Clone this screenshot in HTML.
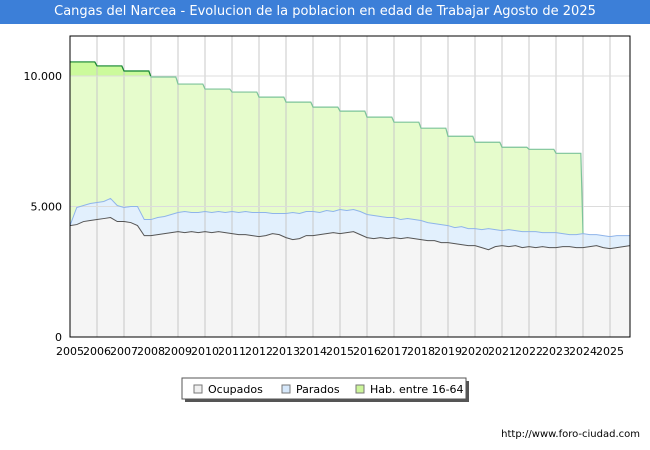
<!DOCTYPE html>
<html><head><meta charset="utf-8">
<style>
body{margin:0;width:650px;height:450px;background:#fff;font-family:"DejaVu Sans","Liberation Sans",sans-serif;overflow:hidden}
#title{position:absolute;left:0;top:0;width:650px;height:24px;background:#3c7fd8;color:#fff;font-size:13px;line-height:24px;text-align:center}
</style></head><body>
<div id="title">Cangas del Narcea - Evolucion de la poblacion en edad de Trabajar Agosto de 2025</div>
<svg id="chart" width="650" height="450" style="position:absolute;left:0;top:0"></svg>
<script>
const years=[2005,2006,2007,2008,2009,2010,2011,2012,2013,2014,2015,2016,2017,2018,2019,2020,2021,2022,2023];
const hab=[10538,10385,10192,9962,9692,9500,9385,9192,9000,8808,8654,8423,8231,8000,7692,7462,7269,7192,7038];
const ocupados=[4269,4308,4423,4462, 4500,4538,4577,4423, 4423,4385,4269,3885, 3885,3923,3962,4000, 4038,4000,4038,4000, 4038,4000,4038,4000, 3962,3923,3923,3885, 3846,3885,3962,3923, 3808,3731,3769,3885, 3885,3923,3962,4000, 3962,4000,4038,3923, 3808,3769,3808,3769, 3808,3769,3808,3769, 3731,3692,3692,3615, 3615,3577,3538,3500, 3500,3423,3346,3462, 3500,3462,3500,3423, 3462,3423,3462,3423, 3423,3462,3462,3423, 3423,3462,3500,3423, 3385,3423,3500];
const parados=[0,654,615,654, 654,654,731,615, 538,615,731,615, 615,654,654,692, 731,808,731,769, 769,769,769,769, 846,846,885,885, 923,885,769,808, 923,1038,962,923, 923,846,885,808, 923,846,846,885, 885,885,808,808, 769,731,731,731, 731,692,654,692, 654,615,692,654, 654,692,808,654, 577,654,577,615, 577,615,538,577, 577,500,462,500, 538,462,423,462, 462,462,385];
const yTicks=[0,5000,10000];
const yLabels=["0","5.000","10.000"];
const xLabels=["2005","2006","2007","2008","2009","2010","2011","2012","2013","2014","2015","2016","2017","2018","2019","2020","2021","2022","2023","2024","2025"];

const NS="http://www.w3.org/2000/svg";
const svg=document.getElementById('chart');
const X0=70,X1=630,Y0=337,Y1=36;
const sx=t=>X0+(t-2005)*27;
const sy=v=>Y0-v/5000*130.5;
function el(tag,attrs,parent){const e=document.createElementNS(NS,tag);for(const k in attrs)e.setAttribute(k,attrs[k]);(parent||svg).appendChild(e);return e;}

const bg=el('rect',{x:X0,y:Y1,width:X1-X0,height:Y0-Y1,fill:'#fff'});



const qt=i=>2005+i*0.25;
const last=ocupados.length-1;
const xEnd=X1;
const qx=i=>i===last?xEnd:sx(qt(i));
const tops=ocupados.map((o,i)=>o+parados[i]);

// hab area
let hp=[];
years.forEach((yr,i)=>{hp.push([sx(yr),sy(hab[i])]);hp.push([sx(yr+0.92),sy(hab[i])]);});
const endIdx=(2024-2005)*4;
hp.push([sx(2024),sy(tops[endIdx])]);
let hPts=hp.map(p=>p.join(',')).join(' ');
const habArea=el('polygon',{points:hPts+` ${sx(2024)},${Y0} ${X0},${Y0}`,fill:'#e6fccc'});


// darker part above 10000
el('clipPath',{id:'hi'}).appendChild(Object.assign(document.createElementNS(NS,'rect'),{})) ;
const cp=svg.querySelector('#hi rect');cp.setAttribute('x',X0);cp.setAttribute('y',Y1);cp.setAttribute('width',X1-X0);cp.setAttribute('height',sy(10000)-Y1);
el('polygon',{points:hPts+` ${sx(2024)},${Y0} ${X0},${Y0}`,fill:'#ccfa9c','clip-path':'url(#hi)'});

// parados area
let tp=tops.map((v,i)=>[qx(i),sy(v)]);
let op=ocupados.map((v,i)=>[qx(i),sy(v)]);
const parArea=el('polygon',{points:tp.map(p=>p.join(',')).join(' ')+' '+op.slice().reverse().map(p=>p.join(',')).join(' '),fill:'#e2f0fd'});


const ocuArea=el('polygon',{points:op.map(p=>p.join(',')).join(' ')+` ${xEnd},${Y0} ${X0},${Y0}`,fill:'#f5f5f5'});



// grid
for(let y=2006;y<=2025;y++){const g=el('line',{x1:sx(y),x2:sx(y),y1:Y1,y2:Y0,stroke:'#c8c8c8','stroke-width':1});}
yTicks.forEach((v,i)=>{if(v>0)el('line',{x1:X0,x2:X1,y1:sy(v),y2:sy(v),stroke:'#dcdcdc','stroke-width':1});
 const t=el('text',{x:62,y:sy(v)+4,'text-anchor':'end','font-size':11,fill:'#000'});t.textContent=yLabels[i];
 
 });

// lines
const habLine=el('polyline',{points:hPts,fill:'none',stroke:'#7cc39a','stroke-width':1.2});


el('polyline',{points:hPts,fill:'none',stroke:'#1d8a35','stroke-width':1.2,'clip-path':'url(#hi)'});
const parLine=el('polyline',{points:tp.map(p=>p.join(',')).join(' '),fill:'none',stroke:'#8fb4ea','stroke-width':1});


const ocuLine=el('polyline',{points:op.map(p=>p.join(',')).join(' '),fill:'none',stroke:'#555','stroke-width':1});



// frame
el('rect',{x:X0,y:Y1,width:X1-X0,height:Y0-Y1,fill:'none',stroke:'#000','stroke-width':1});

xLabels.forEach((l,i)=>{const t=el('text',{x:sx(2005+i),y:355,'text-anchor':'middle','font-size':11,fill:'#000'});t.textContent=l;
 
 });

// legend
const lg=el('g',{});


el('rect',{x:185,y:381,width:284,height:21,fill:'#555'},lg);
el('rect',{x:182,y:378,width:284,height:21,fill:'#fff',stroke:'#555'},lg);
const items=[["Ocupados","#f0f0f0",194],["Parados","#d6e8fb",282],["Hab. entre 16-64","#ccf59a",356]];
items.forEach(it=>{const g=el('g',{},lg);
 
 
 el('rect',{x:it[2],y:385,width:8,height:8,fill:it[1],stroke:'#777'},g);
 const t=el('text',{x:it[2]+14,y:393,'font-size':11,fill:'#000'},g);t.textContent=it[0];});

const u=el('text',{x:640,y:437,'text-anchor':'end','font-size':10,fill:'#000'});u.textContent='http://www.foro-ciudad.com';


</script>
</body></html>
